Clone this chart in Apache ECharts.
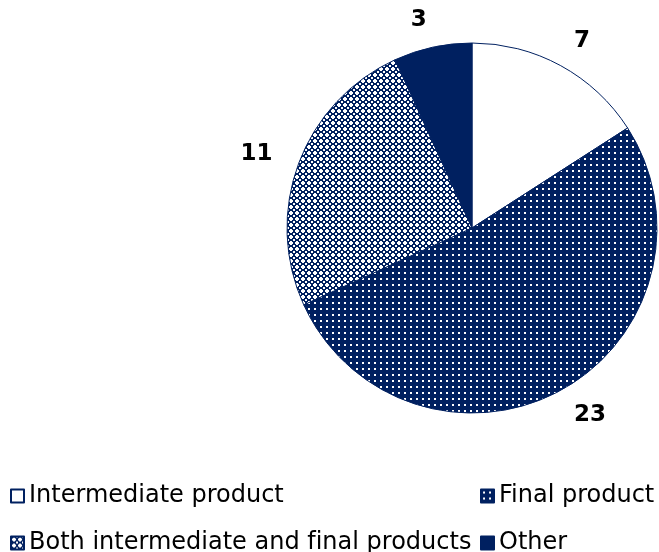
<!DOCTYPE html>
<html>
<head>
<meta charset="utf-8">
<script src="https://cdn.jsdelivr.net/npm/echarts@6/dist/echarts.min.js"></script>
<style>
html,body{margin:0;padding:0;background:#fff;}
#chart{width:659px;height:552px;}
</style>
</head>
<body>
<div id="chart"></div>
<script>
const categories = ['Intermediate product', 'Final product', 'Both intermediate and final products', 'Other'];
const values = [7, 23, 11, 3];

const NAVY = '#002060';

function dotPattern() {
  const c = document.createElement('canvas');
  c.width = 6; c.height = 6;
  const g = c.getContext('2d');
  g.fillStyle = NAVY; g.fillRect(0, 0, 6, 6);
  g.fillStyle = '#ffffff'; g.fillRect(2, 2, 2, 2);
  return c;
}
function checkPattern() {
  const c = document.createElement('canvas');
  c.width = 6; c.height = 6;
  const g = c.getContext('2d');
  g.fillStyle = NAVY; g.fillRect(0, 0, 6, 6);
  g.fillStyle = '#ffffff';
  g.fillRect(2, 1, 2, 4);
  g.fillRect(1, 2, 4, 2);
  g.fillRect(0, 0, 1, 1);
  g.fillRect(5, 0, 1, 1);
  g.fillRect(0, 5, 1, 1);
  g.fillRect(5, 5, 1, 1);
  return c;
}

const fills = [
  '#ffffff',
  { image: dotPattern(), repeat: 'repeat' },
  { image: checkPattern(), repeat: 'repeat' },
  NAVY
];

// avoid the "fi" ligature so the text looks like the original
const noLig = s => s.replace(/fi/g, 'f\u200Ci');

const chart = echarts.init(document.getElementById('chart'), null, { renderer: 'canvas' });

const legendText = { fontFamily: 'DejaVu Sans', fontSize: 24, color: '#000' };

chart.setOption({
  animation: false,
  legend: [
    {
      data: [categories[0], categories[2]],
      orient: 'vertical',
      left: 10, top: 484, height: 90,
      itemWidth: 13, itemHeight: 13, itemGap: 23,
      icon: 'rect',
      textStyle: legendText,
      formatter: noLig,
      padding: 0
    },
    {
      data: [categories[1], categories[3]],
      orient: 'vertical',
      left: 480, top: 484, height: 90,
      itemWidth: 13, itemHeight: 13, itemGap: 23,
      icon: 'rect',
      textStyle: legendText,
      formatter: noLig,
      padding: 0
    }
  ],
  series: [{
    type: 'pie',
    center: [472, 228],
    radius: 185,
    startAngle: 90,
    clockwise: true,
    avoidLabelOverlap: false,
    label: {
      show: true,
      position: 'outside',
      formatter: '{c}',
      distanceToLabelLine: 0,
      padding: [6, 0, 0, 0],
      fontFamily: 'DejaVu Sans',
      fontWeight: 'bold',
      fontSize: 23,
      color: '#000'
    },
    labelLine: { show: false, length: 28, length2: 0 },
    itemStyle: { borderColor: NAVY, borderWidth: 1 },
    emphasis: { disabled: true },
    data: categories.map((name, i) => ({
      name: name,
      value: values[i],
      itemStyle: { color: fills[i] }
    }))
  }]
});
</script>
</body>
</html>
